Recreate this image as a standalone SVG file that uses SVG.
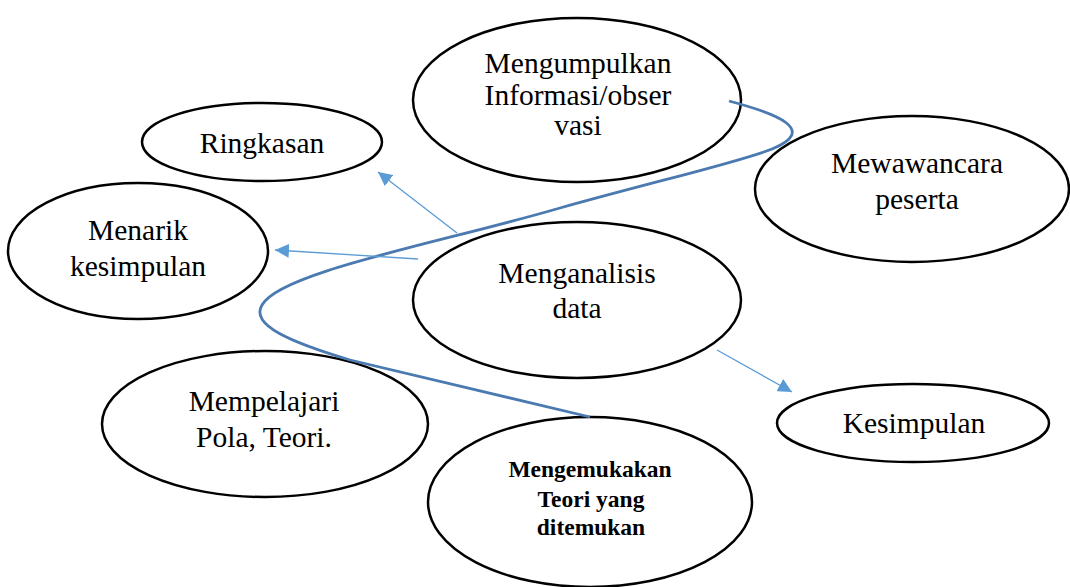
<svg xmlns="http://www.w3.org/2000/svg" width="1070" height="587" viewBox="0 0 1070 587">
<style>
.n ellipse{fill:#fff;stroke:#000;stroke-width:2.5}
.n text{font-family:"Liberation Serif","Times New Roman",serif;font-size:29.5px;fill:#000;text-anchor:middle}
.b text{font-weight:bold;font-size:23.5px}
.ar{stroke:#5B9BD5;stroke-width:1.3;fill:none}
.cv{stroke:#4A7AB0;stroke-width:2.8;fill:none}
</style>
<defs>
<marker id="ah" viewBox="0 0 10 10" refX="10" refY="5" markerWidth="14" markerHeight="14" markerUnits="userSpaceOnUse" orient="auto"><path d="M0,0 L10,5 L0,10 z" fill="#5B9BD5"/></marker>
</defs>
<rect width="1070" height="587" fill="#fff"/>
<g id="n-mengumpulkan" class="n"><ellipse cx="577" cy="100" rx="164" ry="82"/><text x="578" y="73">Mengumpulkan</text><text x="578" y="105">Informasi/obser</text><text x="578" y="135">vasi</text></g>
<g id="n-ringkasan" class="n"><ellipse cx="262" cy="142" rx="120" ry="39"/><text x="262" y="153">Ringkasan</text></g>
<g id="n-menarik" class="n"><ellipse cx="138" cy="251" rx="130" ry="68"/><text x="138" y="240">Menarik</text><text x="138" y="276">kesimpulan</text></g>
<g id="n-mewawancara" class="n"><ellipse cx="912" cy="189" rx="157" ry="73"/><text x="917" y="173">Mewawancara</text><text x="917" y="209">peserta</text></g>
<g id="n-menganalisis" class="n"><ellipse cx="577" cy="300" rx="164" ry="78"/><text x="577" y="283">Menganalisis</text><text x="577" y="318">data</text></g>
<g id="n-mempelajari" class="n"><ellipse cx="265" cy="424" rx="163" ry="73"/><text x="264" y="411">Mempelajari</text><text x="264" y="447">Pola, Teori.</text></g>
<g id="n-kesimpulan" class="n"><ellipse cx="913" cy="423" rx="136" ry="39"/><text x="914" y="433">Kesimpulan</text></g>
<g id="n-mengemukakan" class="n b"><ellipse cx="590" cy="502" rx="162" ry="85"/><text x="590" y="477">Mengemukakan</text><text x="591" y="507">Teori yang</text><text x="591" y="535">ditemukan</text></g>
<g id="connectors">
<path class="cv" d="M729,101 C778,114 818,130 772,149 C740,162 660,180 560,208 C440,243 280,272 262,305 C250,325 290,342 350,360 L590,417"/>
<line class="ar" x1="457" y1="233" x2="378" y2="172" marker-end="url(#ah)"/>
<line class="ar" x1="418" y1="259" x2="275" y2="250" marker-end="url(#ah)"/>
<line class="ar" x1="717" y1="350" x2="792" y2="392" marker-end="url(#ah)"/>
</g>
</svg>
